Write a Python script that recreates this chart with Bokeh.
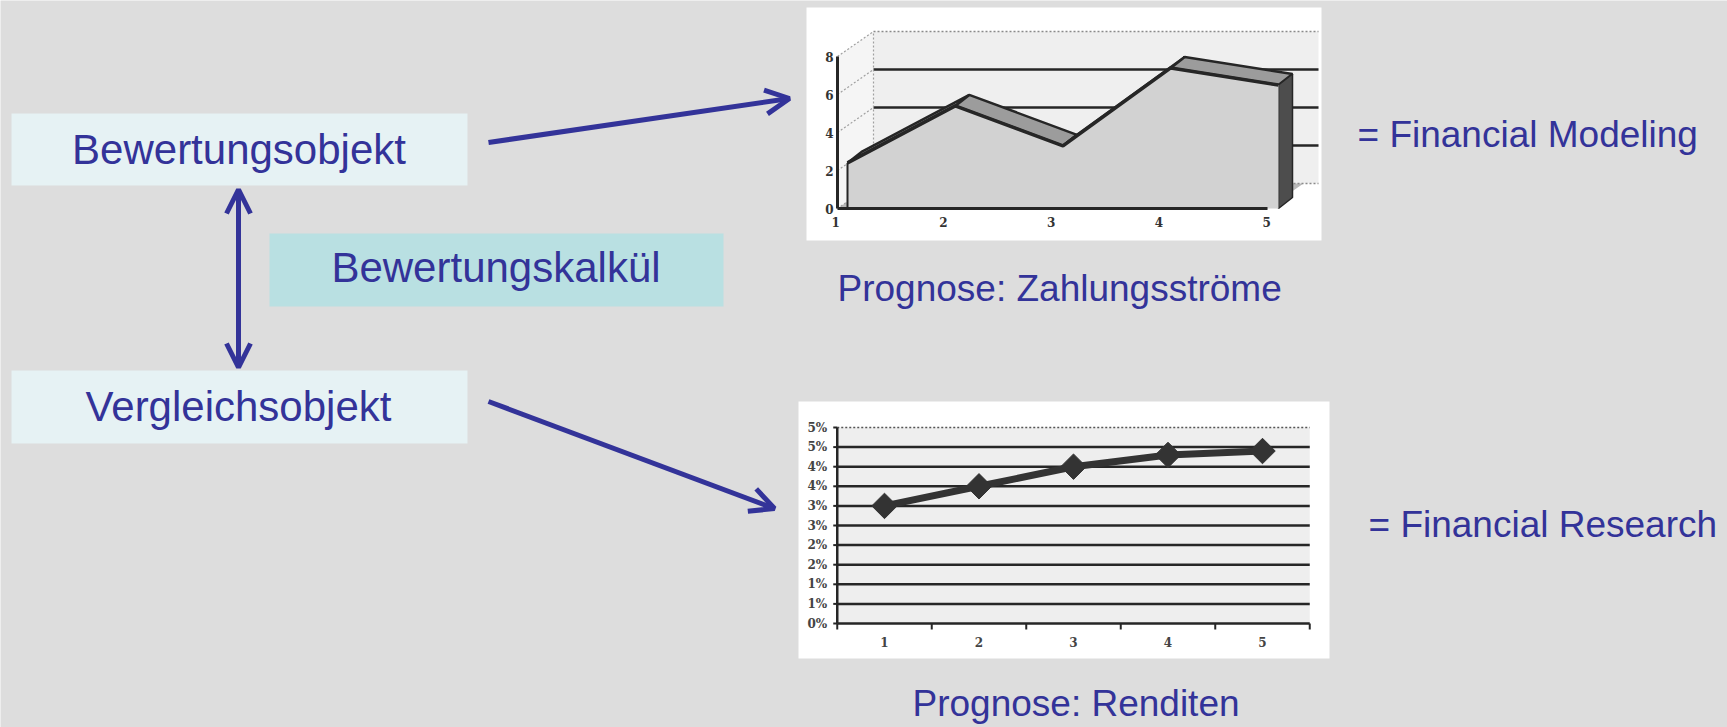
import math
from bokeh.plotting import figure
from bokeh.models import Range1d, Arrow, OpenHead
from bokeh.core.properties import value
from bokeh.embed import file_html
from bokeh.resources import INLINE

# ---------------- data ----------------
periods = [1, 2, 3, 4, 5]
period_labels = ["1", "2", "3", "4", "5"]
cash_flows = [2.4, 5.4, 3.3, 7.4, 6.5]          # Prognose: Zahlungsströme
cf_ticks = [0, 2, 4, 6, 8]
cf_tick_labels = ["0", "2", "4", "6", "8"]
returns_pct = [3.0, 3.5, 4.0, 4.3, 4.4]          # Prognose: Renditen (%)
ret_ticks = [0, 0.5, 1, 1.5, 2, 2.5, 3, 3.5, 4, 4.5, 5]
ret_tick_labels = ["0%", "1%", "1%", "2%", "2%", "3%", "3%", "4%", "4%", "5%", "5%"]

# ---------------- page / canvas ----------------
W, H = 1727, 727
BG = "#dddddd"
BLUE = "#333399"
DARK = "#262626"
FONT = value("Liberation Sans")
TICKFONT = value("DejaVu Serif")

p = figure(width=W, height=H, x_range=Range1d(0, W), y_range=Range1d(H, 0),
           x_axis_location=None, y_axis_location=None, toolbar_location=None,
           output_backend="svg", min_border=0, outline_line_color=None,
           background_fill_color=BG, border_fill_color=BG)
p.xgrid.visible = False
p.ygrid.visible = False


def x_range_for(v0, px0, k):
    return Range1d(start=v0 - px0 / k, end=v0 + (W - px0) / k)


def y_range_for(v0, py0, k):
    return Range1d(start=v0 - (H - py0) / k, end=v0 + py0 / k)


# scales of the two embedded charts (placement in the page)
TK, TYK = 107.75, 19.0      # top chart: px per period, px per unit
BK, BYK = 94.5, 39.2        # bottom chart: px per period, px per percent
p.extra_x_ranges = {"tx": x_range_for(1, 847, TK), "bx": x_range_for(1, 884, BK)}
p.extra_y_ranges = {"ty": y_range_for(0, 208, TYK), "by": y_range_for(0, 623, BYK)}
T = dict(x_range_name="tx", y_range_name="ty")
B = dict(x_range_name="bx", y_range_name="by")

# ---------------- diagram boxes ----------------
p.quad(left=[11, 11], right=[467, 467], top=[113, 370], bottom=[185, 443],
       fill_color="#e6f2f4", line_color=None)
p.quad(left=[269], right=[723], top=[233], bottom=[306],
       fill_color="#b9e0e2", line_color=None)

p.text(x=[238.5, 238, 495.5], y=[149, 406, 267],
       text=["Bewertungsobjekt", "Vergleichsobjekt", "Bewertungskalkül"],
       text_align="center", text_baseline="alphabetic", text_color=BLUE,
       text_font=FONT, text_font_size="42px")

# arrows
head = dict(size=24, line_width=5, line_color=BLUE)
p.add_layout(Arrow(end=OpenHead(**head), x_start=488, y_start=142, x_end=789, y_end=98,
                   line_color=BLUE, line_width=5))
p.add_layout(Arrow(end=OpenHead(**head), x_start=488, y_start=401, x_end=774, y_end=508,
                   line_color=BLUE, line_width=5))
p.add_layout(Arrow(start=OpenHead(**head), end=OpenHead(**head), x_start=238, y_start=189,
                   x_end=238, y_end=367, line_color=BLUE, line_width=5))

# captions
p.text(x=[837, 912], y=[288, 703], text=["Prognose: Zahlungsströme", "Prognose: Renditen"],
       text_align="left", text_baseline="alphabetic", text_color=BLUE,
       text_font=FONT, text_font_size="37px")
p.text(x=[1357, 1368], y=[134, 524], text=["= Financial Modeling", "= Financial Research"],
       text_align="left", text_baseline="alphabetic", text_color=BLUE,
       text_font=FONT, text_font_size="37px")

# white "picture" backgrounds of the two charts
p.quad(left=[806, 798], right=[1321, 1329], top=[7, 401], bottom=[240, 658],
       fill_color="white", line_color=None)

# ---------------- top chart: 3D area (Zahlungsströme) ----------------
xa = 1 + (837 - 847) / TK            # front value axis
wdx, wdy = 36 / TK, 25 / TYK          # depth of walls
adx, ady = 14 / TK, 11 / TYK          # depth of the area series
xr = 1 + (1318 - 847) / TK            # right end of back wall
xf = 1 + (1267 - 847) / TK            # right end of front floor edge
ymax = cf_ticks[-1]

# back wall, side wall, floor
p.patch([xa + wdx, xr, xr, xa + wdx], [wdy, wdy, ymax + wdy, ymax + wdy],
        fill_color="#efefef", line_color=None, **T)
p.patch([xa, xa + wdx, xa + wdx, xa], [0, wdy, ymax + wdy, ymax],
        fill_color="#f5f5f5", line_color=None, **T)
p.patch([xa, xf, xf + wdx, xa + wdx], [0, 0, wdy, wdy],
        fill_color="#b8b8b8", line_color=None, **T)

# back-wall gridlines
p.multi_line([[xa + wdx, xr] for t in cf_ticks[1:-1]],
             [[t + wdy, t + wdy] for t in cf_ticks[1:-1]],
             line_color=DARK, line_width=2.5, **T)
p.multi_line([[xa + wdx, xr], [xa + wdx, xr]], [[ymax + wdy] * 2, [wdy, wdy]],
             line_color="#8a8a8a", line_width=1.5, line_dash="2 2", **T)
p.multi_line([[xa, xa + wdx] for t in cf_ticks], [[t, t + wdy] for t in cf_ticks],
             line_color="#a0a0a0", line_width=1.2, line_dash="2 2", **T)
p.line([xa + wdx, xa + wdx], [wdy, ymax + wdy], line_color="#a0a0a0",
       line_width=1.2, line_dash="2 2", **T)

# area series: top strips, right face, front face
strip_xs = [[periods[i], periods[i + 1], periods[i + 1] + adx, periods[i] + adx]
            for i in range(len(periods) - 1)]
strip_ys = [[cash_flows[i], cash_flows[i + 1], cash_flows[i + 1] + ady, cash_flows[i] + ady]
            for i in range(len(periods) - 1)]
p.patches(strip_xs, strip_ys, fill_color="#9c9c9c", line_color=DARK, line_width=2.5, **T)
p.patch([periods[-1], periods[-1], periods[-1] + adx, periods[-1] + adx],
        [0, cash_flows[-1], cash_flows[-1] + ady, ady],
        fill_color="#4d4d4d", line_color=DARK, line_width=1.5, **T)
p.patch([periods[0]] + periods + [periods[-1]], [0] + cash_flows + [0],
        fill_color="#d2d2d2", line_color=None, **T)
p.line(periods, cash_flows, line_color=DARK, line_width=3.5, **T)
p.line([periods[0], periods[0]], [0, cash_flows[0]], line_color=DARK, line_width=2, **T)

# front axes
p.line([xa, xa], [0, ymax], line_color=DARK, line_width=3, **T)
p.line([xa, xf], [0, 0], line_color=DARK, line_width=3, **T)
p.text(x=[xa - 4 / TK] * len(cf_ticks), y=cf_ticks, text=cf_tick_labels,
       text_align="right", text_baseline="middle", text_color="#333333",
       text_font=TICKFONT, text_font_style="bold", text_font_size="12px", **T)
p.text(x=[v - 0.11 for v in periods], y=[-13 / TYK] * len(periods), text=period_labels,
       text_align="center", text_baseline="middle", text_color="#333333",
       text_font=TICKFONT, text_font_style="bold", text_font_size="12px", **T)

# ---------------- bottom chart: line with markers (Renditen) ----------------
x_lo, x_hi = periods[0] - 0.5, periods[-1] + 0.5
p.quad(left=[x_lo], right=[x_hi], bottom=[ret_ticks[0]], top=[ret_ticks[-1]],
       fill_color="#eeeeee", line_color=None, **B)
p.multi_line([[x_lo, x_hi] for t in ret_ticks[:-1]], [[t, t] for t in ret_ticks[:-1]],
             line_color=DARK, line_width=2.5, **B)
p.line([x_lo, x_hi], [ret_ticks[-1]] * 2, line_color="#555555", line_width=1.5,
       line_dash="2 2", **B)
p.line([x_lo, x_lo], [ret_ticks[0], ret_ticks[-1]], line_color=DARK, line_width=2.5, **B)
p.multi_line([[x_lo - 4 / BK, x_lo] for t in ret_ticks], [[t, t] for t in ret_ticks],
             line_color=DARK, line_width=2, **B)
cat_edges = [v - 0.5 for v in periods] + [periods[-1] + 0.5]
p.multi_line([[e, e] for e in cat_edges], [[0, -6 / BYK] for e in cat_edges],
             line_color=DARK, line_width=2, **B)

p.line(periods, returns_pct, line_color="#333333", line_width=7, **B)
p.scatter(periods, returns_pct, marker="square", angle=math.pi / 4, size=18,
          fill_color="#333333", line_color="#333333", **B)

p.text(x=[x_lo - 10 / BK] * len(ret_ticks), y=ret_ticks, text=ret_tick_labels,
       text_align="right", text_baseline="middle", text_color="#444444",
       text_font=TICKFONT, text_font_style="bold", text_font_size="12px", **B)
p.text(x=periods, y=[-18 / BYK] * len(periods), text=period_labels,
       text_align="center", text_baseline="middle", text_color="#444444",
       text_font=TICKFONT, text_font_style="bold", text_font_size="12px", **B)

open("out.html", "w").write(file_html(p, INLINE))
